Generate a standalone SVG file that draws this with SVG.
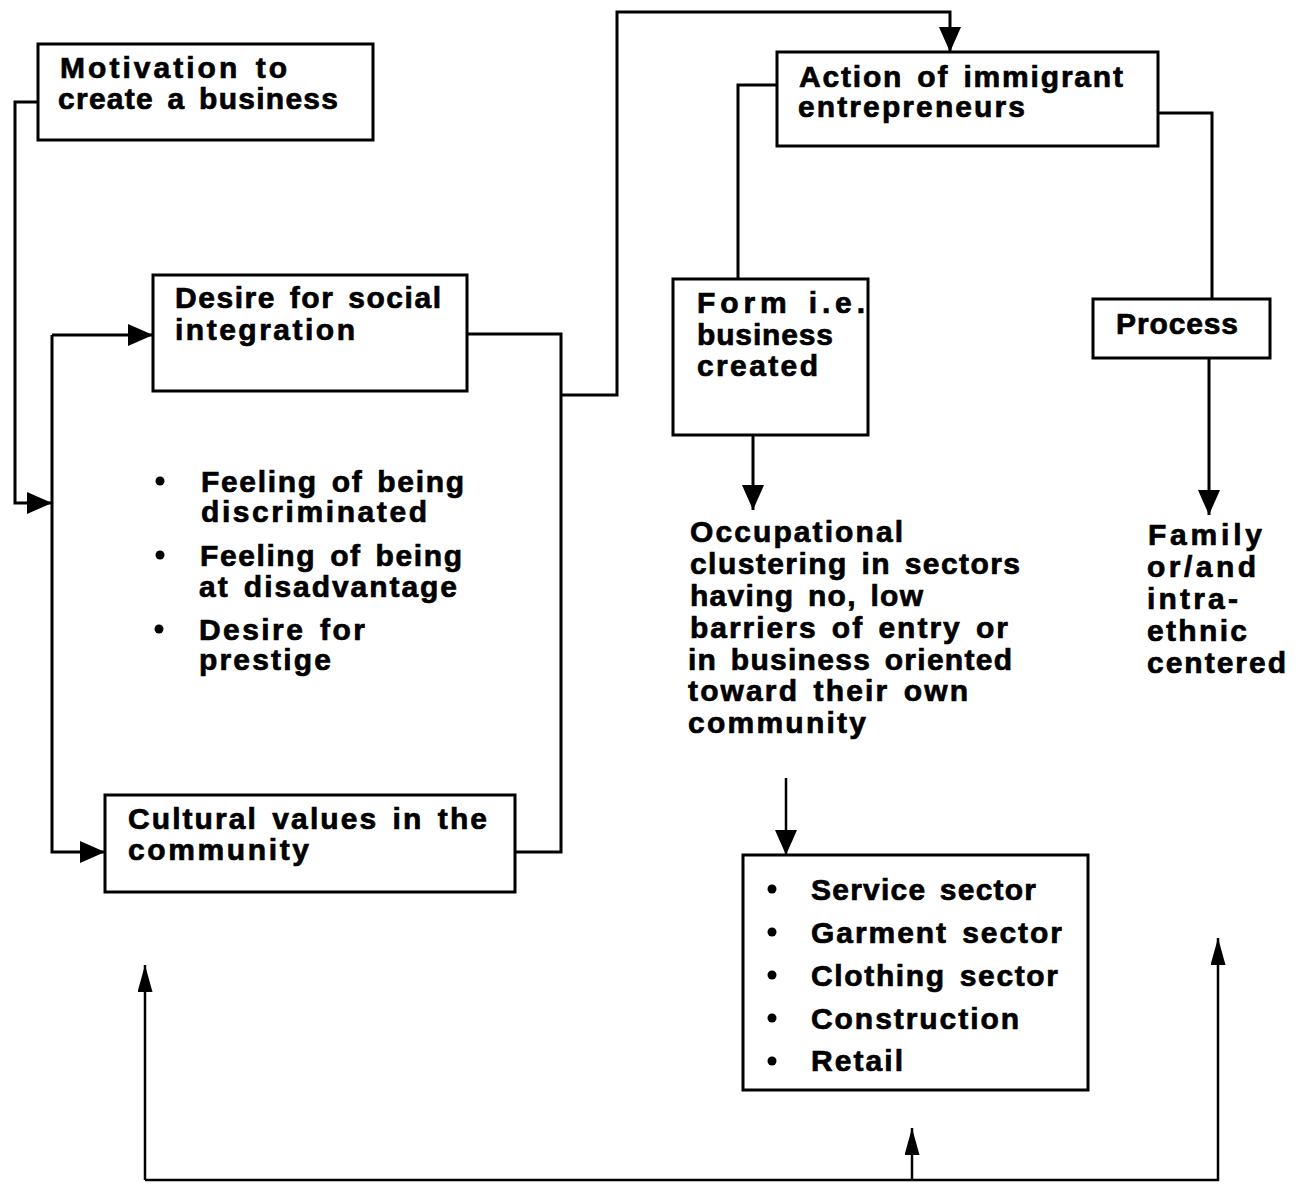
<svg xmlns="http://www.w3.org/2000/svg" width="1305" height="1188" viewBox="0 0 1305 1188">
  <defs>
    <style>
      .box { fill: #fff; stroke: #000; stroke-width: 3; }
      .wire { fill: none; stroke: #000; stroke-width: 3; }
      .thin { fill: none; stroke: #000; stroke-width: 2.5; }
      text { font-family: "Liberation Sans", Arial, sans-serif; font-weight: bold; font-size: 30px; fill: #000; stroke: #000; stroke-width: 0.7; word-spacing: 4px; }
      .dot { fill: #000; }
    </style>
    <marker id="head" markerUnits="userSpaceOnUse" markerWidth="25" markerHeight="22" refX="25" refY="11" orient="auto">
      <path d="M0,0 L25,11 L0,22 z" fill="#000"/>
    </marker>
    <marker id="headSlim" markerUnits="userSpaceOnUse" markerWidth="27" markerHeight="15" refX="27" refY="7.5" orient="auto">
      <path d="M0,0 L27,7.5 L0,15 z" fill="#000"/>
    </marker>
  </defs>
  <rect width="1305" height="1188" fill="#fff"/>

  <!-- connectors -->
  <g id="connectors">
    <path class="wire" d="M38,102 H15 V503 H52" marker-end="url(#head)"/>
    <path class="wire" d="M52,335 H153" marker-end="url(#head)"/>
    <path class="wire" d="M52,335 V852 H105" marker-end="url(#head)"/>
    <path class="wire" d="M467,334 H561 V852 H515"/>
    <path class="wire" d="M561,395 H617 V12 H950 V52" marker-end="url(#head)"/>
    <path class="wire" d="M777,85 H738 V279"/>
    <path class="wire" d="M1158,113 H1212 V300"/>
    <path class="wire" d="M753,435 V510" marker-end="url(#head)"/>
    <path class="wire" d="M1209,358 V515" marker-end="url(#head)"/>
    <path class="thin" d="M786,778 V855" marker-end="url(#head)"/>
    <path class="thin" d="M145,1180 V965" marker-end="url(#headSlim)"/>
    <path class="thin" d="M145,1180 H1218 V938" marker-end="url(#headSlim)"/>
    <path class="thin" d="M912,1180 V1128" marker-end="url(#headSlim)"/>
  </g>

  <!-- nodes -->
  <g id="motivation">
    <rect class="box" x="38" y="44" width="335" height="96"/>
    <text x="60" y="78" textLength="227" lengthAdjust="spacing">Motivation to</text>
    <text x="58" y="109" textLength="280" lengthAdjust="spacing">create a business</text>
  </g>

  <g id="social-integration">
    <rect class="box" x="153" y="275" width="314" height="116"/>
    <text x="175" y="308" textLength="266" lengthAdjust="spacing">Desire for social</text>
    <text x="175" y="340" textLength="180" lengthAdjust="spacing">integration</text>
  </g>

  <g id="feelings">
    <circle class="dot" cx="160" cy="481" r="4.5"/>
    <text x="201" y="492" textLength="263" lengthAdjust="spacing">Feeling of being</text>
    <text x="201" y="522" textLength="226" lengthAdjust="spacing">discriminated</text>
    <circle class="dot" cx="160" cy="555" r="4.5"/>
    <text x="200" y="566" textLength="262" lengthAdjust="spacing">Feeling of being</text>
    <text x="199" y="597" textLength="258" lengthAdjust="spacing">at disadvantage</text>
    <circle class="dot" cx="159" cy="629" r="4.5"/>
    <text x="199" y="640" textLength="166" lengthAdjust="spacing">Desire for</text>
    <text x="199" y="670" textLength="132" lengthAdjust="spacing">prestige</text>
  </g>

  <g id="cultural-values">
    <rect class="box" x="105" y="795" width="410" height="97"/>
    <text x="128" y="829" textLength="359" lengthAdjust="spacing">Cultural values in the</text>
    <text x="128" y="860" textLength="181" lengthAdjust="spacing">community</text>
  </g>

  <g id="action">
    <rect class="box" x="777" y="52" width="381" height="94"/>
    <text x="799" y="87" textLength="324" lengthAdjust="spacing">Action of immigrant</text>
    <text x="798" y="117" textLength="227" lengthAdjust="spacing">entrepreneurs</text>
  </g>

  <g id="form">
    <rect class="box" x="673" y="279" width="195" height="156"/>
    <text x="697" y="313" textLength="168" lengthAdjust="spacing">Form i.e.</text>
    <text x="697" y="345" textLength="136" lengthAdjust="spacing">business</text>
    <text x="697" y="376" textLength="121" lengthAdjust="spacing">created</text>
  </g>

  <g id="process">
    <rect class="box" x="1093" y="299" width="177" height="59"/>
    <text x="1116" y="334" textLength="122" lengthAdjust="spacing">Process</text>
  </g>

  <g id="clustering">
    <text x="690" y="542" textLength="213" lengthAdjust="spacing">Occupational</text>
    <text x="690" y="574" textLength="330" lengthAdjust="spacing">clustering in sectors</text>
    <text x="690" y="606" textLength="233" lengthAdjust="spacing">having no, low</text>
    <text x="690" y="638" textLength="318" lengthAdjust="spacing">barriers of entry or</text>
    <text x="688" y="670" textLength="324" lengthAdjust="spacing">in business oriented</text>
    <text x="688" y="701" textLength="280" lengthAdjust="spacing">toward their own</text>
    <text x="688" y="733" textLength="178" lengthAdjust="spacing">community</text>
  </g>

  <g id="family">
    <text x="1148" y="545" textLength="114" lengthAdjust="spacing">Family</text>
    <text x="1147" y="577" textLength="109" lengthAdjust="spacing">or/and</text>
    <text x="1147" y="609" textLength="91" lengthAdjust="spacing">intra-</text>
    <text x="1147" y="641" textLength="100" lengthAdjust="spacing">ethnic</text>
    <text x="1147" y="673" textLength="139" lengthAdjust="spacing">centered</text>
  </g>

  <g id="sectors">
    <rect class="box" x="743" y="855" width="345" height="235"/>
    <circle class="dot" cx="772" cy="889" r="4.5"/>
    <text x="811" y="900" textLength="225" lengthAdjust="spacing">Service sector</text>
    <circle class="dot" cx="772" cy="932" r="4.5"/>
    <text x="811" y="943" textLength="251" lengthAdjust="spacing">Garment sector</text>
    <circle class="dot" cx="772" cy="975" r="4.5"/>
    <text x="811" y="986" textLength="247" lengthAdjust="spacing">Clothing sector</text>
    <circle class="dot" cx="772" cy="1018" r="4.5"/>
    <text x="811" y="1029" textLength="208" lengthAdjust="spacing">Construction</text>
    <circle class="dot" cx="772" cy="1061" r="4.5"/>
    <text x="811" y="1071" textLength="92" lengthAdjust="spacing">Retail</text>
  </g>
</svg>
